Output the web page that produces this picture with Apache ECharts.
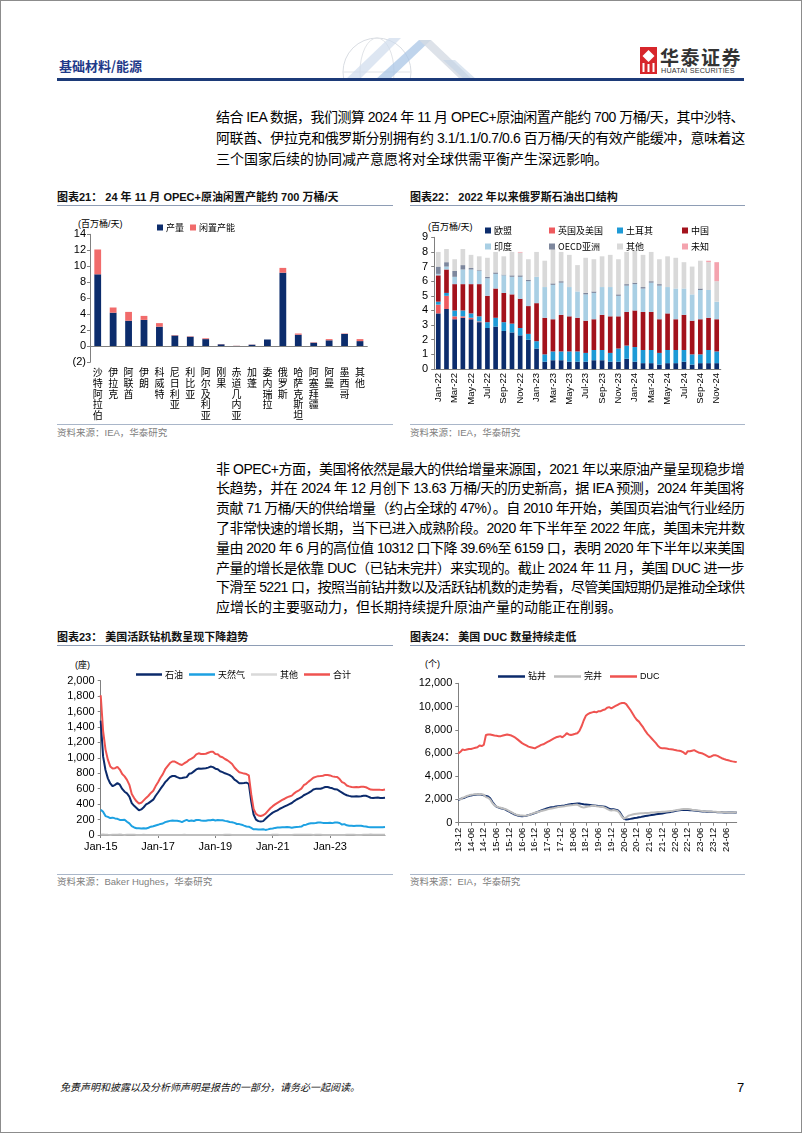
<!DOCTYPE html>
<html><head><meta charset="utf-8">
<script src="https://cdn.jsdelivr.net/npm/echarts@6.0.0/dist/echarts.min.js"></script>
<style>
*{box-sizing:border-box}
html,body{margin:0;padding:0;background:#fff}
#page{position:relative;width:802px;height:1133px;overflow:hidden;background:#fff;font-family:"Liberation Sans","Noto Sans CJK SC",sans-serif;color:#000}
#frame{position:absolute;left:0;top:0;width:802px;height:1133px;border:1px solid #8c8c8c;pointer-events:none;z-index:5}
.t{position:absolute;white-space:nowrap}
.ln{position:absolute;left:216px;font-size:14px;line-height:18px;height:18px;white-space:nowrap}
.ttl{position:absolute;font-size:11px;font-weight:bold;line-height:14px;white-space:nowrap;color:#111}
.rule{position:absolute;height:1px;background:#8E9DB5}
.src{position:absolute;font-size:9.5px;color:#808080;line-height:12px;white-space:nowrap}
.unit{position:absolute;font-size:9px;line-height:12px;white-space:nowrap;color:#000}
#chart{position:absolute;left:0;top:0;width:802px;height:1133px;z-index:2}
</style></head>
<body>
<div id="page">
  <!-- header -->
  <svg class="t" style="left:305px;top:32px" width="210" height="48">
    <circle cx="72" cy="40" r="34" fill="none" stroke="#d9dde3" stroke-width="1"/>
    <ellipse cx="72" cy="40" rx="17" ry="34" fill="none" stroke="#e1e4e8" stroke-width="1"/>
    <line x1="38" y1="40" x2="106" y2="40" stroke="#e1e4e8"/>
    <polygon points="40,48 84,6 96,6 54,48" fill="#cfdcec" opacity="0.7"/>
    <polygon points="70,48 114,8 126,8 84,48" fill="#a9c6e6" opacity="0.75"/>
    <polygon points="114,8 126,8 168,48 156,48" fill="#d4dbe4" opacity="0.8"/>
    <polygon points="138,28 150,28 172,48 160,48" fill="#c3d3e6" opacity="0.6"/>
  </svg>
  <div class="t" style="left:59px;top:57px;font-size:13px;font-weight:bold;color:#1F3A89;font-family:'Noto Sans CJK SC';line-height:18px">基础材料/能源</div>
  <div class="t" style="left:57px;top:78px;width:687px;height:3px;background:#1C3A78"></div>
  <svg class="t" style="left:640px;top:47px" width="17" height="27">
    <rect x="0" y="0" width="17" height="27" fill="#D7262B"/>
    <polygon points="8.5,3 14.5,9 8.5,15 2.5,9" fill="#fff"/>
    <rect x="2.5" y="16" width="2" height="9" fill="#fff"/>
    <rect x="7.5" y="17" width="2" height="8" fill="#fff"/>
    <rect x="12.5" y="16" width="2" height="9" fill="#fff"/>
  </svg>
  <div class="t" style="left:660px;top:46px;font-size:19px;font-weight:bold;color:#333;font-family:'Noto Sans CJK SC';line-height:22px;letter-spacing:1.5px">华泰证券</div>
  <div class="t" style="left:661px;top:67px;font-size:7.2px;color:#333;line-height:8px;letter-spacing:0.2px">HUATAI SECURITIES</div>

  <!-- paragraph 1 -->
  <div class="ln j" data-w="529" style="top:108px">结合 IEA 数据，我们测算 2024 年 11 月 OPEC+原油闲置产能约 700 万桶/天，其中沙特、</div>
  <div class="ln j" data-w="529" style="top:129px">阿联酋、伊拉克和俄罗斯分别拥有约 3.1/1.1/0.7/0.6 百万桶/天的有效产能缓冲，意味着这</div>
  <div class="ln" style="top:150px">三个国家后续的协同减产意愿将对全球供需平衡产生深远影响。</div>

  <!-- chart titles row 1 -->
  <div class="ttl" style="left:57px;top:190px">图表21： 24 年 11 月 OPEC+原油闲置产能约 700 万桶/天</div>
  <div class="rule" style="left:57px;top:205px;width:336px"></div>
  <div class="ttl" style="left:410px;top:190px">图表22： 2022 年以来俄罗斯石油出口结构</div>
  <div class="rule" style="left:410px;top:205px;width:335px"></div>
  <div class="unit" style="left:78px;top:218px">(百万桶/天)</div>
  <div class="unit" style="left:428px;top:221px">(百万桶/天)</div>
  <div class="rule" style="left:57px;top:424px;width:336px;background:#A9B6C9"></div>
  <div class="src" style="left:57px;top:427px">资料来源：IEA，华泰研究</div>
  <div class="rule" style="left:410px;top:424px;width:335px;background:#A9B6C9"></div>
  <div class="src" style="left:410px;top:427px">资料来源：IEA，华泰研究</div>

  <!-- paragraph 2 -->
  <div class="ln j" data-w="529" style="top:459.5px">非 OPEC+方面，美国将依然是最大的供给增量来源国，2021 年以来原油产量呈现稳步增</div>
  <div class="ln j" data-w="529" style="top:479.3px">长趋势，并在 2024 年 12 月创下 13.63 万桶/天的历史新高，据 IEA 预测，2024 年美国将</div>
  <div class="ln j" data-w="529" style="top:499.1px">贡献 71 万桶/天的供给增量（约占全球的 47%）。自 2010 年开始，美国页岩油气行业经历</div>
  <div class="ln j" data-w="529" style="top:518.9px">了非常快速的增长期，当下已进入成熟阶段。2020 年下半年至 2022 年底，美国未完井数</div>
  <div class="ln j" data-w="529" style="top:538.7px">量由 2020 年 6 月的高位值 10312 口下降 39.6%至 6159 口，表明 2020 年下半年以来美国</div>
  <div class="ln j" data-w="529" style="top:558.5px">产量的增长是依靠 DUC（已钻未完井）来实现的。截止 2024 年 11 月，美国 DUC 进一步</div>
  <div class="ln j" data-w="529" style="top:578.3px">下滑至 5221 口，按照当前钻井数以及活跃钻机数的走势看，尽管美国短期仍是推动全球供</div>
  <div class="ln" style="top:598.1px">应增长的主要驱动力，但长期持续提升原油产量的动能正在削弱。</div>

  <!-- chart titles row 2 -->
  <div class="ttl" style="left:57px;top:630px">图表23： 美国活跃钻机数呈现下降趋势</div>
  <div class="rule" style="left:57px;top:645px;width:336px"></div>
  <div class="ttl" style="left:410px;top:630px">图表24： 美国 DUC 数量持续走低</div>
  <div class="rule" style="left:410px;top:645px;width:335px"></div>
  <div class="unit" style="left:75px;top:659px">(座)</div>
  <div class="unit" style="left:425px;top:658px">(个)</div>
  <div class="rule" style="left:57px;top:874px;width:336px;background:#A9B6C9"></div>
  <div class="src" style="left:57px;top:876px">资料来源：Baker Hughes，华泰研究</div>
  <div class="rule" style="left:410px;top:874px;width:335px;background:#A9B6C9"></div>
  <div class="src" style="left:410px;top:876px">资料来源：EIA，华泰研究</div>

  <!-- footer -->
  <div class="t" style="left:60px;top:1081px;font-size:10px;font-style:italic;line-height:14px;color:#111">免责声明和披露以及分析师声明是报告的一部分，请务必一起阅读。</div>
  <div class="t" style="left:737px;top:1080px;font-size:13px;line-height:16px">7</div>

  <div id="chart"></div>
  <div id="frame"></div>
</div>
<script>
// justify lines to a fixed width
document.querySelectorAll('.ln.j').forEach(function(el){
  var w = +el.getAttribute('data-w');
  var n = el.textContent.length;
  var nat = el.scrollWidth;
  el.style.letterSpacing = ((w - nat) / (n - 1)) + 'px';
});

// ---------------- data ----------------
const cats21 = ['沙特阿拉伯','伊拉克','阿联酋','伊朗','科威特','尼日利亚','利比亚','阿尔及利亚','刚果','赤道几内亚','加蓬','委内瑞拉','俄罗斯','哈萨克斯坦','阿塞拜疆','阿曼','墨西哥','其他'];
const prod21  = [9.0, 4.2, 3.2, 3.3, 2.45, 1.35, 1.2, 0.9, 0.25, 0.05, 0.2, 0.85, 9.2, 1.45, 0.45, 0.75, 1.55, 0.65];
const spare21 = [3.1, 0.65, 1.1, 0.5, 0.45, 0.05, 0.05, 0.1, 0.02, 0.02, 0.02, 0.0, 0.6, 0.15, 0.05, 0.15, 0.05, 0.25];
const yTicks21 = {min: -2, max: 14, interval: 2};

const MON = ['Jan','Feb','Mar','Apr','May','Jun','Jul','Aug','Sep','Oct','Nov','Dec'];
function monthCats(y0, m0, n, fmt){ const a=[]; for(let i=0;i<n;i++){ const t=m0+i; a.push(fmt(y0+Math.floor(t/12), t%12)); } return a; }
const cats22 = monthCats(22, 0, 35, (y,m)=>MON[m]+'-'+y);
const eu22     = [3.8,4.1,3.4,3.5,3.4,3.2,2.8,2.9,2.6,2.5,2.3,2.0,1.4,0.5,0.6,0.6,0.5,0.5,0.5,0.6,0.6,0.5,0.5,0.7,0.5,0.4,0.4,0.3,0.4,0.4,0.5,0.3,0.4,0.4,0.4];
const ukus22   = [0.6,0.9,0.2,0.1,0.1,0.05,0,0,0,0,0,0,0,0,0,0,0,0,0,0,0,0,0,0,0,0,0,0,0,0,0,0,0,0,0];
const turkey22 = [0.2,0.2,0.4,0.4,0.3,0.35,0.4,0.6,0.6,0.6,0.5,0.4,0.5,0.5,0.6,0.6,0.7,0.7,0.6,0.7,0.7,0.6,0.9,0.9,1.0,0.9,0.9,0.8,0.9,0.9,0.8,0.7,0.6,0.9,0.8];
const china22  = [1.8,1.6,1.8,1.8,2.0,2.2,1.8,2.0,2.0,2.0,2.0,1.9,2.6,2.5,2.2,2.5,2.4,2.3,2.2,2.1,2.4,2.5,2.2,2.3,2.5,2.6,2.6,2.3,2.5,2.1,2.4,2.3,2.4,2.2,2.2];
const india22  = [0.1,0.2,0.5,1.0,1.0,0.9,1.2,1.0,1.2,1.2,1.5,1.7,1.8,2.1,2.35,2.2,2.0,1.8,1.8,1.8,1.9,2.0,1.4,1.8,1.8,1.6,2.0,2.3,1.8,2.1,1.8,1.8,2.0,1.9,1.2];
const oecd22   = [0.5,0.3,0.4,0.3,0.1,0.05,0.1,0.1,0.05,0.1,0.1,0.1,0,0,0.1,0.1,0,0,0.1,0.1,0,0,0.1,0.1,0.1,0.1,0.1,0.1,0,0,0,0,0.1,0,0];
const other22  = [1.0,0.9,0.8,1.1,0.9,0.95,1.3,1.4,1.25,1.6,1.55,1.4,1.7,1.8,2.35,2.0,2.2,1.8,2.4,2.2,2.1,2.2,2.4,2.2,2.2,2.2,2.0,1.7,2.1,2.1,1.8,1.9,1.9,1.9,1.4];
const unk22    = [0,0,0,0,0,0,0,0,0,0,0.05,0,0,0,0,0,0,0,0,0,0,0,0,0,0,0,0,0,0,0,0,0,0,0.1,1.3];
const yTicks22 = {min: 0, max: 9, interval: 1};

const cats23 = monthCats(15, 0, 120, (y,m)=>MON[m]+'-'+y);
const oil23 = [
 1482,1019,843,734,668,632,650,672,652,597,561,539,
 498,414,378,350,321,332,360,396,414,436,458,509,
 551,597,639,685,717,750,765,765,750,737,740,745,
 750,793,800,825,850,862,860,863,866,873,887,880,
 860,853,826,815,800,789,776,755,717,698,672,670,
 674,679,663,438,266,200,180,175,180,210,240,265,
 290,305,320,340,355,370,385,400,415,440,460,475,
 490,515,530,545,565,590,598,600,600,610,622,622,
 612,605,592,590,568,550,530,515,507,500,500,501,
 499,503,508,508,497,483,480,483,485,480,479,482];
const gas23 = [
 328,300,245,235,220,225,215,210,195,193,198,172,
 150,115,98,88,86,84,87,84,94,108,114,124,
 132,144,149,167,176,183,188,186,185,179,167,183,
 196,181,189,182,195,196,189,185,186,192,190,197,
 189,193,190,192,183,178,168,165,157,143,141,134,
 121,110,108,91,73,74,72,72,75,66,73,82,
 84,92,97,97,99,100,103,100,95,100,104,106,
 109,130,134,145,151,152,155,161,162,157,156,156,
 159,154,161,162,156,135,141,125,121,120,118,120,
 119,120,114,109,104,100,102,99,100,101,101,104];
const misc23 = [
 3,5,4,2,1,4,2,2,5,2,1,3,
 2,3,2,1,1,1,2,1,1,1,1,1,
 0,1,0,1,1,0,0,1,1,1,1,2,
 1,1,1,1,1,1,1,1,1,1,1,1,
 1,1,1,1,2,2,2,1,1,1,1,1,
 1,1,1,0,0,0,1,1,1,0,0,0,
 2,2,2,1,1,0,0,1,1,2,2,2,
 2,2,2,2,2,1,2,2,2,1,1,1,
 1,1,1,1,1,1,1,2,2,2,2,1,
 1,1,2,2,2,6,4,3,2,4,4,3];
const total23 = [
 1811,1350,1110,976,889,861,866,884,848,791,760,714,
 650,532,478,437,408,417,449,481,509,545,573,634,
 683,742,789,853,894,933,953,952,936,917,908,930,
 947,975,990,1008,1046,1059,1050,1049,1053,1066,1078,1078,
 1050,1047,1017,1008,985,969,946,921,875,842,814,805,
 796,790,772,529,339,274,253,247,256,276,313,347,
 374,397,417,436,454,470,488,500,510,540,563,580,
 601,645,663,692,716,743,753,763,764,768,779,779,
 772,760,754,753,725,686,672,642,630,622,620,622,
 619,624,624,619,603,589,586,585,587,585,584,589];
const yTicks23 = {min: 0, max: 2000, interval: 200};

const cats24 = monthCats(13, 11, 132, (y,m)=>y+'-'+String(m+1).padStart(2,'0'));
const drilled24 = [1950,
 2050,2100,2150,2250,2300,2350,2380,2400,2420,2450,2400,2350,
 2300,2250,2100,1800,1550,1380,1300,1250,1200,1150,1050,950,
 850,750,680,620,580,560,570,600,650,700,760,820,
 900,980,1050,1120,1180,1250,1300,1330,1360,1400,1420,1440,
 1460,1480,1520,1560,1600,1620,1640,1650,1660,1620,1580,1560,
 1540,1520,1500,1480,1460,1440,1420,1400,1380,1300,1200,1150,
 1150,1120,1080,900,600,330,280,300,330,370,400,430,
 470,500,540,570,600,630,660,690,720,750,780,800,
 830,870,900,930,970,1010,1040,1070,1090,1100,1110,1100,
 1080,1070,1050,1030,1010,990,970,960,950,940,940,930,
 920,910,900,890,880,880,870,870,870,870,880];
const completed24 = [2050,
 2000,2150,2200,2300,2350,2400,2420,2450,2450,2480,2450,2400,
 2200,2150,2000,1700,1500,1400,1330,1280,1230,1180,1100,1000,
 900,800,720,660,620,610,600,620,650,720,800,850,
 900,950,1000,1050,1100,1150,1200,1230,1260,1300,1350,1380,
 1400,1420,1450,1480,1500,1520,1550,1560,1450,1350,1300,1350,
 1400,1420,1450,1450,1420,1400,1380,1350,1300,1200,1100,1050,
 1100,1050,1000,800,500,350,450,600,650,700,750,780,
 800,810,820,830,840,850,870,880,900,920,930,940,
 950,970,990,1010,1030,1060,1090,1120,1150,1170,1180,1180,
 1150,1120,1100,1080,1050,1020,1000,990,980,970,960,950,
 940,930,920,910,900,890,880,880,880,890,900];
const duc24 = [5950,
 6100,6300,6250,6300,6350,6350,6400,6450,6500,6650,6600,6700,
 7550,7600,7600,7550,7500,7480,7450,7450,7500,7550,7600,7550,
 7500,7400,7300,7150,7000,6850,6750,6650,6550,6500,6450,6400,
 6500,6600,6700,6750,6850,6950,7050,7150,7250,7350,7400,7450,
 7350,7500,7700,7600,7550,7600,7650,7700,7900,8300,8800,9200,
 9350,9450,9500,9550,9500,9600,9600,9700,9750,9900,9950,9850,
 9950,10050,10150,10250,10300,10312,10200,9950,9700,9400,9100,8850,
 8700,8450,8200,7900,7650,7450,7250,7050,6850,6600,6450,6400,
 6400,6380,6350,6330,6300,6250,6220,6200,6150,6050,5900,6159,
 6150,6200,6250,6150,6050,6000,5950,5850,5750,5650,5700,5800,
 5800,5750,5650,5550,5480,5420,5380,5320,5280,5250,5221];
const yTicks24 = {min: 0, max: 12000, interval: 2000};

// ---------------- styles ----------------
const NAVY = '#0C2C6C', CORAL = '#F16B6B';
const C22 = {eu:'#0C2C6C', ukus:'#EE5A5E', tr:'#1E9AD6', cn:'#A3121C', in:'#A9CFE4', oecd:'#7D879D', oth:'#D9D9D9', unk:'#F4A3AE'};
const AX = '#808080';
const LAB = {color:'#000', fontSize:11, fontFamily:'Liberation Sans'};
const CJK = 'Noto Sans CJK SC';
const thousands = v => v.toLocaleString('en-US');

function yAxis(gi, t, fmt, margin){
  return {type:'value', gridIndex:gi, min:t.min, max:t.max, interval:t.interval,
    axisLine:{show:true, lineStyle:{color:AX}}, axisTick:{show:true, length:3, lineStyle:{color:AX}},
    splitLine:{show:false}, axisLabel:Object.assign({}, LAB, {margin:margin, formatter:fmt})};
}

const names22 = ['欧盟','英国及美国','土耳其','中国','印度','OECD亚洲','其他','未知'];
const data22 = [eu22, ukus22, turkey22, china22, india22, oecd22, other22, unk22];
const cols22 = [C22.eu, C22.ukus, C22.tr, C22.cn, C22.in, C22.oecd, C22.oth, C22.unk];

const legendBase = {icon:'rect', itemWidth:6, itemHeight:6, textStyle:{fontSize:9, fontFamily:CJK, color:'#000', padding:[0,0,0,-2]}, selectedMode:false};
const legends22 = [[480,['欧盟','印度']],[544,['英国及美国','OECD亚洲']],[612,['土耳其','其他']],[677,['中国','未知']]]
  .map(c => Object.assign({}, legendBase, {left:c[0], top:221, orient:'vertical', itemGap:7, data:c[1]}));

const option = {
  animation:false,
  grid:[
    {left:90, top:234.3, width:277.7, height:128},
    {left:434.2, top:237.3, width:286.6, height:131.7},
    {left:100.7, top:680.7, width:284.3, height:154.3},
    {left:458.3, top:683.3, width:278.4, height:139.4}
  ],
  legend:[
    Object.assign({}, legendBase, {left:152, top:218, itemGap:6, data:['产量','闲置产能']}),
    ...legends22,
    Object.assign({}, legendBase, {left:131, top:665, itemWidth:26, itemHeight:2.5, itemGap:6, data:['石油','天然气','其他','合计']}),
    Object.assign({}, legendBase, {left:493, top:667, itemWidth:27, itemHeight:2.5, itemGap:8, data:['钻井','完井','DUC'], textStyle:{fontSize:9, fontFamily:'Liberation Sans, Noto Sans CJK SC', color:'#000', padding:[0,0,0,-2]}})
  ],
  xAxis:[
    {type:'category', gridIndex:0, data:cats21,
     axisLine:{show:false, onZero:false}, axisTick:{show:false},
     axisLabel:{interval:0, color:'#000', fontSize:10, lineHeight:10.6, fontFamily:CJK, margin:5, verticalAlign:'top',
       formatter: s => s.split('').join('\n')}},
    {type:'category', gridIndex:1, data:cats22,
     axisLine:{show:true, lineStyle:{color:AX}}, axisTick:{show:false},
     axisLabel:Object.assign({}, LAB, {fontSize:9.5, rotate:90, interval:1, margin:4})},
    {type:'category', gridIndex:2, data:cats23, boundaryGap:false,
     axisLine:{show:true, lineStyle:{color:AX}},
     axisTick:{show:true, length:3, lineStyle:{color:AX}, interval:(i)=>i%24===0},
     axisLabel:Object.assign({}, LAB, {interval:(i)=>i%24===0, margin:6})},
    {type:'category', gridIndex:3, data:cats24, boundaryGap:false,
     axisLine:{show:true, lineStyle:{color:AX}},
     axisTick:{show:true, length:3, lineStyle:{color:AX}, interval:(i)=>i%6===0},
     axisLabel:Object.assign({}, LAB, {fontSize:9.5, rotate:90, interval:(i)=>i%6===0, margin:5})}
  ],
  yAxis:[
    yAxis(0, yTicks21, v => v < 0 ? '(' + (-v) + ')' : String(v), 4),
    yAxis(1, yTicks22, v => String(v), 6),
    yAxis(2, yTicks23, thousands, 6),
    yAxis(3, yTicks24, thousands, 6)
  ],
  series:[
    {name:'产量', type:'bar', xAxisIndex:0, yAxisIndex:0, stack:'s21', data:prod21, barWidth:'44%', itemStyle:{color:NAVY},
     markLine:{silent:true, symbol:'none', label:{show:false}, lineStyle:{color:AX, width:1, type:'solid'}, data:[{yAxis:0}]}},
    {name:'闲置产能', type:'bar', xAxisIndex:0, yAxisIndex:0, stack:'s21', data:spare21, barWidth:'44%', itemStyle:{color:CORAL}},
    ...names22.map((n,i)=>({name:n, type:'bar', xAxisIndex:1, yAxisIndex:1, stack:'s22', data:data22[i], barWidth:'57%', itemStyle:{color:cols22[i]}})),
    {name:'石油', type:'line', xAxisIndex:2, yAxisIndex:2, data:oil23, showSymbol:false, symbol:'none', lineStyle:{width:2, color:'#0B2A6B'}, itemStyle:{color:'#0B2A6B'}},
    {name:'天然气', type:'line', xAxisIndex:2, yAxisIndex:2, data:gas23, showSymbol:false, symbol:'none', lineStyle:{width:2, color:'#1DA1E2'}, itemStyle:{color:'#1DA1E2'}},
    {name:'其他', type:'line', xAxisIndex:2, yAxisIndex:2, data:misc23, showSymbol:false, symbol:'none', lineStyle:{width:2, color:'#BFBFBF'}, itemStyle:{color:'#BFBFBF'}},
    {name:'合计', type:'line', xAxisIndex:2, yAxisIndex:2, data:total23, showSymbol:false, symbol:'none', lineStyle:{width:2, color:'#EF5350'}, itemStyle:{color:'#EF5350'}},
    {name:'钻井', type:'line', xAxisIndex:3, yAxisIndex:3, data:drilled24, showSymbol:false, symbol:'none', lineStyle:{width:2, color:'#0B2A6B'}, itemStyle:{color:'#0B2A6B'}},
    {name:'完井', type:'line', xAxisIndex:3, yAxisIndex:3, data:completed24, showSymbol:false, symbol:'none', lineStyle:{width:2, color:'#BDBDBD'}, itemStyle:{color:'#BDBDBD'}},
    {name:'DUC', type:'line', xAxisIndex:3, yAxisIndex:3, data:duc24, showSymbol:false, symbol:'none', lineStyle:{width:2, color:'#EF5350'}, itemStyle:{color:'#EF5350'}}
  ]
};
const chart = echarts.init(document.getElementById('chart'), null, {renderer:'canvas'});
chart.setOption(option);
</script>
</body></html>
